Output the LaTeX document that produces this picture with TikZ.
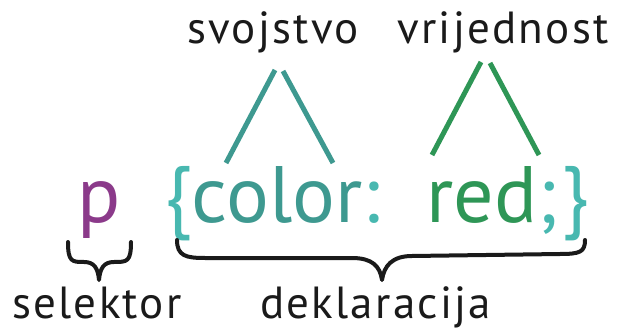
\documentclass[tikz,border=0pt]{standalone}
\usepackage{fontspec}
\setmainfont{PT Sans}
\newfontfamily\labfont[LetterSpace=5]{PT Sans}
\definecolor{cpurple}{HTML}{8B3A8A}
\definecolor{cteal}{HTML}{3E9990}
\definecolor{clteal}{HTML}{48B8B0}
\definecolor{cgreen}{HTML}{2E9656}
\definecolor{cblack}{HTML}{1A1A1A}
\begin{document}
\begin{tikzpicture}[x=1pt,y=-1pt,
  lab/.style={inner sep=0pt,anchor=base west,font=\labfont\fontsize{45}{45}\selectfont,text=cblack},
  big/.style={inner sep=0pt,font=\fontsize{80}{80}\selectfont},
  tealline/.style={draw=cteal,line width=5pt},
  greenline/.style={draw=cgreen,line width=5pt},
  bracepath/.style={draw=cblack,line width=4pt,line cap=round,line join=round}]
\useasboundingbox (0,0) rectangle (623,331);
% top labels
\node[lab] (svo) at (187,44) {svojstvo};
\node[lab] (vri) at (397,44) {vrijednost};
% main code
\node[big,anchor=base west,text=cpurple] (p) at (77,222) {p};
\node[big,anchor=base west] (prop) at (164,222) {\textcolor{clteal}{\{}\textcolor{cteal}{color}\textcolor{clteal}{:}};
\node[big,anchor=base west] (val) at (426,222) {\textcolor{cgreen}{red}\textcolor{clteal}{;}};
\node[big,anchor=base east,text=clteal] (rb) at (589,222) {\}};
% bottom labels
\node[lab] (sel) at (12,318) {selektor};
\node[lab] (dek) at (260,318) {deklaracija};
% connector coordinates
\coordinate (s1) at (275,70);
\coordinate (s1e) at (226,163);
\coordinate (s2) at (283,71);
\coordinate (s2e) at (333,163);
\coordinate (v1) at (481,62);
\coordinate (v1e) at (432,155);
\coordinate (v2) at (490,63);
\coordinate (v2e) at (539,155);
\draw[tealline] (s1) -- (s1e);
\draw[tealline] (s2) -- (s2e);
\draw[greenline] (v1) -- (v1e);
\draw[greenline] (v2) -- (v2e);
% small brace
\coordinate (sbL) at (68,242);
\coordinate (sbT) at (99,280);
\coordinate (sbR) at (131,242);
\draw[bracepath] (sbL) .. controls (68,262) and (72,262) .. (84,262)
  .. controls (94,262) and (98,268) .. (sbT)
  .. controls (100,268) and (104,262) .. (114,262)
  .. controls (127,262) and (131,262) .. (sbR);
% big brace
\coordinate (bbL) at (177,240);
\coordinate (bbT) at (382,280);
\coordinate (bbR) at (585,240);
\draw[bracepath] (bbL) .. controls (177,256) and (186,258) .. (205,258)
  -- (352,258) .. controls (372,258) and (380,266) .. (bbT)
  .. controls (384,266) and (392,256) .. (412,256)
  -- (560,254) .. controls (580,254) and (585,252) .. (bbR);
\end{tikzpicture}
\end{document}
